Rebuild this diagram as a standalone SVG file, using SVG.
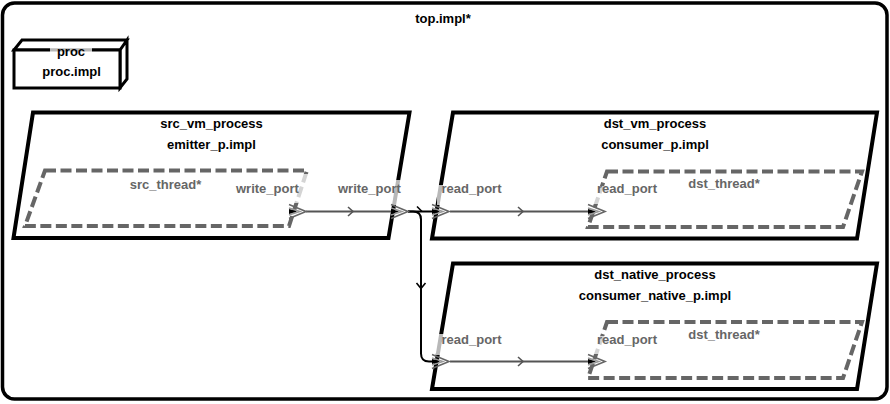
<svg xmlns="http://www.w3.org/2000/svg" width="890" height="404" viewBox="0 0 890 404">
<defs>
<style>
.t{font-family:"Liberation Sans",Arial,sans-serif;font-size:13px;font-weight:bold;text-anchor:middle;fill:#000}
.g{fill:#666}
.s{text-anchor:start}
.proc{fill:#fff;stroke:#000;stroke-width:4;stroke-linejoin:miter}
.thr{fill:none;stroke:#666;stroke-width:4;stroke-dasharray:11 4.5}
.bg{fill:#fff;fill-opacity:0.72}
.cg{fill:none;stroke:#555;stroke-width:2}
.cb{fill:none;stroke:#000;stroke-width:2}
.ag{fill:none;stroke:#555;stroke-width:1.6}
.ab{fill:none;stroke:#000;stroke-width:1.6}
</style>
<g id="portGlyph">
<path d="M-9,-7 L8,0 L-9,7" fill="none" stroke="#666" stroke-width="1.6"/>
<path d="M-9,-3.5 L2,0 L-9,3.5" fill="none" stroke="#999" stroke-width="1.4"/>
<path d="M-9,-2.5 L-1,0 L-9,2.5 Z" fill="#000"/>
</g>
</defs>

<g id="top">
<rect x="2.5" y="3" width="884.5" height="396" rx="12" fill="#fff" stroke="#000" stroke-width="3.5"/>
<text class="t" x="443" y="22.5">top.impl*</text>
</g>

<g id="proc">
<path d="M14,50 L22,40 L127,40 L120,50 Z M120,50 L127,40 L127,79 L120,88 Z" fill="#fff" stroke="#000" stroke-width="3" stroke-linejoin="miter"/>
<rect x="14" y="50" width="106" height="38" fill="#fff" stroke="#000" stroke-width="3"/>
<rect class="bg" x="50" y="46.5" width="42" height="13"/>
<text class="t" x="71" y="56">proc</text>
<text class="t" x="71.5" y="76">proc.impl</text>
</g>

<g id="src_vm_process">
<polygon class="proc" points="33,112.5 409.5,112.5 388.5,238 13.5,238"/>
<text class="t" x="211.5" y="128">src_vm_process</text>
<text class="t" x="211.5" y="149">emitter_p.impl</text>
<g id="src_thread">
<polygon class="thr" points="45,170.5 307,170.5 289,226 25,226"/>
<text class="t g" x="165.5" y="188.5">src_thread*</text>
</g>
</g>

<g id="dst_vm_process">
<polygon class="proc" points="453,112.5 877,112.5 857,238.5 432,238.5"/>
<text class="t" x="655" y="128">dst_vm_process</text>
<text class="t" x="655" y="148.5">consumer_p.impl</text>
<g id="dst_vm_thread">
<polygon class="thr" points="607,171.5 862,171.5 843,227 588,227"/>
<text class="t g" x="724" y="187.5">dst_thread*</text>
</g>
</g>

<g id="dst_native_process">
<polygon class="proc" points="453,263.5 877,263.5 857,389 432,389"/>
<text class="t" x="655" y="279">dst_native_process</text>
<text class="t" x="655" y="300">consumer_native_p.impl</text>
<g id="dst_native_thread">
<polygon class="thr" points="607,322 862,322 843,378 588,378"/>
<text class="t g" x="724" y="338.5">dst_thread*</text>
</g>
</g>

<g id="connectors">
<path class="cg" d="M306,211.5 H392"/>
<path class="ag" d="M348,207 L353,211.5 L348,216"/>
<path class="cg" d="M450,211.5 H588"/>
<path class="ag" d="M518,207 L523,211.5 L518,216"/>
<path class="cg" d="M450,361.5 H588"/>
<path class="ag" d="M518,357 L523,361.5 L518,366"/>
<path class="cb" d="M408,211.5 H432"/>
<path class="ab" d="M417,206.5 L422,211.5"/>
<path class="cb" d="M408,211.5 H413 Q421,211.5 421,219.5 V353.5 Q421,361.5 429,361.5 H432"/>
<path class="ab" d="M416.5,283 L421,288.5 L425.5,283"/>
</g>

<g id="ports">
<g id="src_thread_write_port">
<rect class="bg" x="234" y="174" width="76" height="29"/>
<text class="t g s" x="236" y="192.5">write_port</text>
<use href="#portGlyph" x="298" y="211.5"/>
</g>
<g id="src_vm_write_port">
<rect class="bg" x="336" y="180" width="68" height="25"/>
<text class="t g s" x="338" y="192.5">write_port</text>
<use href="#portGlyph" x="400" y="211.5"/>
</g>
<g id="dst_vm_read_port">
<rect class="bg" x="437" y="185" width="66" height="20"/>
<text class="t g s" x="441.5" y="192.5">read_port</text>
<use href="#portGlyph" x="441" y="211.5"/>
</g>
<g id="dst_vm_thread_read_port">
<rect class="bg" x="592" y="186" width="68" height="18"/>
<text class="t g s" x="597" y="192.5">read_port</text>
<use href="#portGlyph" x="597" y="211.5"/>
</g>
<g id="dst_native_read_port">
<rect class="bg" x="436" y="334" width="67" height="21"/>
<text class="t g s" x="441.5" y="344">read_port</text>
<use href="#portGlyph" x="441" y="361.5"/>
</g>
<g id="dst_native_thread_read_port">
<rect class="bg" x="592" y="336" width="68" height="18"/>
<text class="t g s" x="597" y="344">read_port</text>
<use href="#portGlyph" x="597" y="361.5"/>
</g>
</g>
</svg>
